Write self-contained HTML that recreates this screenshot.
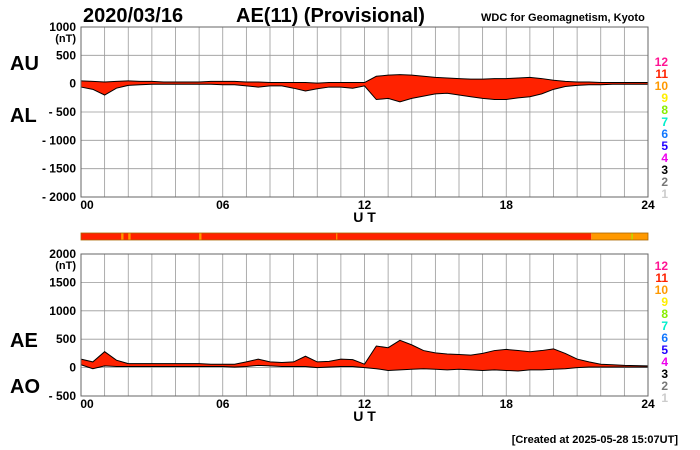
<!DOCTYPE html>
<html><head><meta charset="utf-8"><style>
body{margin:0;background:#fff;}
svg{display:block;font-family:"Liberation Sans",sans-serif;font-weight:bold;}
</style></head><body>
<svg id="chart" width="700" height="450" viewBox="0 0 700 450">
<text x="83" y="22" font-size="20">2020/03/16</text>
<text x="236" y="22" font-size="20">AE(11) (Provisional)</text>
<text x="481" y="21" font-size="11">WDC for Geomagnetism, Kyoto</text>
<text x="10" y="70" font-size="20">AU</text>
<text x="10" y="122" font-size="20">AL</text>
<text x="10" y="347" font-size="20">AE</text>
<text x="10" y="393" font-size="20">AO</text>
<text x="678" y="443" font-size="11" text-anchor="end">[Created at 2025-05-28 15:07UT]</text>
<g id="top"></g>
<g id="bot"></g>
<g id="bar"></g>
</svg>
<script>
const hours=[0,0.5,1,1.5,2,2.5,3,3.5,4,4.5,5,5.5,6,6.5,7,7.5,8,8.5,9,9.5,10,10.5,11,11.5,12,12.5,13,13.5,14,14.5,15,15.5,16,16.5,17,17.5,18,18.5,19,19.5,20,20.5,21,21.5,22,22.5,23,23.5,24];
const auValues=[50,40,30,40,50,40,40,30,30,30,30,40,40,40,30,30,20,20,20,20,10,20,20,20,20,130,150,160,150,130,110,100,90,80,80,90,90,100,110,90,60,40,30,30,20,20,20,20,20];
const alValues=[-60,-100,-200,-80,-30,-20,-10,-10,-10,-10,-10,-10,-20,-20,-40,-60,-40,-40,-80,-130,-90,-60,-60,-80,-40,-280,-260,-320,-260,-220,-180,-170,-200,-230,-260,-280,-280,-250,-230,-180,-100,-50,-30,-20,-20,-10,-10,-10,-10];
const aeValues=[150,100,280,130,70,70,70,70,70,70,70,60,60,60,100,150,100,90,100,200,100,110,150,140,60,380,350,480,400,300,260,240,230,220,250,300,320,300,280,300,330,250,150,100,60,50,40,35,30];
const aoValues=[50,-20,30,20,20,20,20,20,20,20,20,20,20,10,20,40,30,20,20,20,0,10,20,20,0,-20,-50,-40,-30,-20,-30,-40,-30,-40,-50,-40,-50,-60,-40,-40,-30,-20,0,10,10,10,10,10,10];
const topTicks=[1000,500,0,-500,-1000,-1500,-2000];
const botTicks=[2000,1500,1000,500,0,-500];
const xTickLabels=["00","06","12","18","24"];
const legendLabels=["12","11","10","9","8","7","6","5","4","3","2","1"];
const legendColors=["#ff1493","#ff2200","#ff9900","#ffee00","#88ee00","#00eecc","#1177ff","#2200ff","#ee00ee","#000000","#777777","#cccccc"];
const barSegments=[[0,21.6,"#ff2200"],[21.6,24,"#ff9900"],[1.7,1.8,"#ff9900"],[2.0,2.1,"#ff9900"],[5.0,5.1,"#ff9900"],[10.8,10.85,"#ff9900"],[23.3,23.35,"#aaee00"]];

const NS="http://www.w3.org/2000/svg";
const X0=81,X1=648;
const x=h=>X0+(X1-X0)*h/24;
function mk(parent,tag,attrs){const e=document.createElementNS(NS,tag);for(const k in attrs)e.setAttribute(k,attrs[k]);parent.appendChild(e);return e;}
function panel(g,yTop,yBot,vMax,vMin,ticks,upper,lower,upName,loName,legTop){
  const y=v=>yTop+(vMax-v)/(vMax-vMin)*(yBot-yTop);
  for(let i=0;i<=24;i++){const l=mk(g,"line",{x1:x(i),x2:x(i),y1:yTop,y2:yBot,stroke:"#999","stroke-width":0.8});
    
    }
  ticks.forEach((t,i)=>{const l=mk(g,"line",{x1:X0,x2:X1,y1:y(t),y2:y(t),stroke:"#999","stroke-width":0.8});
    
    
    const tx=mk(g,"text",{x:X0-5,y:y(t)+4,"font-size":12,"text-anchor":"end"});tx.textContent=(t<0?"- "+(-t):t);
    
    
    if(i==0){const u=mk(g,"text",{x:X0-5,y:y(t)+15,"font-size":11,"text-anchor":"end"});u.textContent="(nT)";
      
      }
  });
  const up=hours.map((h,i)=>x(h)+","+y(upper[i]));
  const lo=hours.map((h,i)=>x(h)+","+y(lower[i])).reverse();
  const area=mk(g,"polygon",{points:up.concat(lo).join(" "),fill:"#ff2200"});
  
  
  const l1=mk(g,"polyline",{points:up.join(" "),fill:"none",stroke:"#000","stroke-width":1});
  
  
  const l2=mk(g,"polyline",{points:lo.join(" "),fill:"none",stroke:"#000","stroke-width":1});
  
  
  const fr=mk(g,"rect",{x:X0,y:yTop,width:X1-X0,height:yBot-yTop,fill:"none",stroke:"#666","stroke-width":1});
  
  
  xTickLabels.forEach((s,i)=>{const t=mk(g,"text",{x:x(i*6)+(i==0?6:0),y:yBot+12,"font-size":12,"text-anchor":"middle"});t.textContent=s;
    
    });
  const ut=mk(g,"text",{x:x(12),y:yBot+25,"font-size":14,"text-anchor":"middle"});ut.textContent="U T";
  
  
  legendLabels.forEach((s,i)=>{const t=mk(g,"text",{x:668,y:legTop+i*12,"font-size":12,"text-anchor":"end",fill:legendColors[i]});t.textContent=s;
    
    });
}
panel(document.getElementById("top"),27,197,1000,-2000,topTicks,auValues,alValues,"au-line","al-line",66);
panel(document.getElementById("bot"),254,396,2000,-500,botTicks,aeValues,aoValues,"ae-line","ao-line",270);
const bar=document.getElementById("bar");
barSegments.forEach(s=>{const r=mk(bar,"rect",{x:x(s[0]),y:233,width:x(s[1])-x(s[0]),height:7,fill:s[2]});
  
  });
const bf=mk(bar,"rect",{x:X0,y:233,width:X1-X0,height:7,fill:"none",stroke:"#aa6600","stroke-width":0.8});


</script>
</body></html>
